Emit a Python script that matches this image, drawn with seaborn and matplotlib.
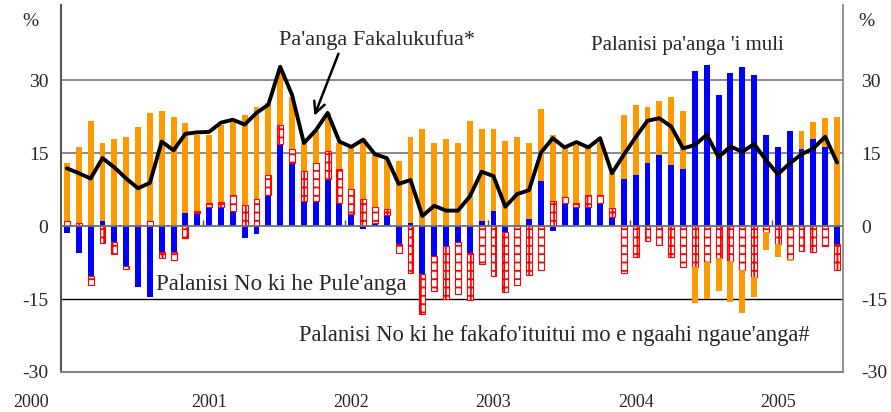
import numpy as np
import pandas as pd
import matplotlib
matplotlib.use('Agg')
import matplotlib.pyplot as plt
import seaborn as sns

months = pd.date_range('2000-01-01', periods=66, freq='MS')
years = ['2000', '2001', '2002', '2003', '2004', '2005']

# Palanisi pa'anga 'i muli
foreign = [-1.4, -5.5, -10.3, 1.0, -3.2, -8.2, -12.5, -14.6, -5.4, -5.4, 2.7, 2.7,
           3.9, 3.9, 3.1, -2.5, -1.7, 6.4, 16.9, 12.9, 5.2, 5.2, 9.7, 4.7,
           2.6, -0.6, 0.7, 2.3, -3.6, 0.6, -9.8, -6.1, -4.1, -3.2, -5.6, 1.0,
           3.1, -1.2, 0.0, 1.4, 9.3, -1.0, 4.7, 3.9, 3.9, 4.7, 1.9, 9.7,
           10.5, 13.0, 14.7, 12.6, 11.8, 32.0, 33.2, 27.0, 31.5, 32.8, 31.2, 18.8,
           16.3, 19.6, 15.9, 17.9, 16.2, -3.6]
# Palanisi No ki he Pule'anga
govt = [1.1, 0.7, -1.7, -3.4, -2.5, -0.6, 0.3, 1.1, -1.2, -1.6, -2.5, 0.4,
        0.8, 1.0, 3.3, 4.3, 5.5, 4.1, 3.9, 2.9, 6.2, 7.8, 5.8, 7.1,
        5.0, 5.6, 3.3, 1.2, -1.9, -9.6, -8.3, -7.3, -10.9, -10.7, -9.6, -7.8,
        -10.3, -12.4, -12.0, -10.0, -9.1, 5.2, 1.4, 0.8, 2.5, 1.7, 1.9, -9.6,
        -6.3, -3.0, -3.8, -6.3, -8.4, -8.3, -7.4, -6.6, -7.2, -9.1, -10.5, -1.2,
        -3.6, -6.7, -5.1, -5.3, -4.1, -5.5]
# Palanisi No ki he fakafo'ituitui mo e ngaahi ngaue'anga
private = [11.8, 15.5, 21.7, 16.1, 18.0, 18.4, 20.1, 22.2, 23.7, 22.5, 18.6, 15.7,
           14.1, 16.0, 15.1, 18.6, 19.0, 14.8, 11.5, 10.8, 5.7, 6.5, 7.8, 5.3,
           8.4, 12.3, 10.7, 10.3, 13.4, 17.8, 20.0, 17.1, 17.9, 17.1, 21.7, 19.0,
           16.9, 17.5, 18.4, 15.7, 14.9, 13.6, 10.1, 12.0, 9.8, 10.7, 7.1, 13.2,
           14.5, 11.6, 11.1, 14.0, 11.9, -7.6, -7.6, -6.7, -8.3, -8.8, -4.1, -3.6,
           -2.8, -0.5, 3.7, 3.6, 6.0, 22.5]
# Pa'anga Fakalukufua
total = [11.9, 10.9, 9.8, 14.0, 12.1, 9.8, 7.8, 8.9, 17.4, 15.6, 19.0, 19.3,
         19.4, 21.3, 21.9, 20.9, 23.3, 25.0, 32.8, 27.0, 17.1, 19.7, 23.3, 17.4,
         16.3, 17.8, 14.8, 14.0, 8.7, 9.5, 2.1, 4.2, 3.2, 3.2, 6.1, 11.2,
         10.3, 4.0, 6.6, 7.4, 15.1, 18.1, 16.2, 17.3, 16.2, 18.1, 10.9, 14.7,
         18.3, 21.7, 22.2, 20.5, 16.0, 16.7, 18.8, 14.2, 16.4, 15.3, 16.9, 13.6,
         10.7, 12.9, 14.8, 16.0, 18.4, 13.1]

df = pd.DataFrame({'month': np.arange(len(months)), 'foreign': foreign,
                   'govt': govt, 'private': private, 'total': total})

# excel style stacking: positives go up from 0, negatives go down from 0
cols = ['foreign', 'govt', 'private']
pos = df[cols].clip(lower=0)
neg = df[cols].clip(upper=0)
pos_base = pos.cumsum(axis=1) - pos
neg_base = neg.cumsum(axis=1) - neg

sns.set_style('white')
plt.rcParams['font.family'] = ['Liberation Serif', 'DejaVu Serif']
plt.rcParams['axes.unicode_minus'] = False
plt.rcParams['hatch.linewidth'] = 1.3

fig = plt.figure(figsize=(8.91, 4.12), dpi=100)
ax = fig.add_axes([61/891, 40/412, 782/891, 367/412])

styles = {
    'foreign': dict(color='#0000FF', linewidth=0),
    'govt': dict(color='white', hatch='++', edgecolor='#FF0000', linewidth=0.8),
    'private': dict(color='#FF9900', linewidth=0),
}
for col in cols:
    for part, base in [(pos, pos_base), (neg, neg_base)]:
        n0 = len(ax.patches)
        sns.barplot(x=df['month'], y=part[col], bottom=base[col].to_numpy(), width=0.5,
                    saturation=1, errorbar=None, ax=ax, zorder=2, **styles[col])
        # hide empty segments so their outline does not show
        for p in ax.patches[n0:]:
            if p.get_height() == 0:
                p.set_visible(False)

sns.lineplot(x=df['month'], y=df['total'], color='black', linewidth=2.8, ax=ax, zorder=5)

for v in [15, 30]:
    ax.axhline(v, color='#808080', lw=1.3, zorder=1)
ax.axhline(-15, color='black', lw=1.0, zorder=1)
ax.axhline(0, color='#707070', lw=1.3, zorder=3)
ax.vlines([11.5, 23.5, 35.5, 47.5, 59.5], 0, 1.2, color='#555555', lw=1, zorder=1)

ax.set_xlim(-0.5, len(months) - 0.5)
ax.set_ylim(-30, 45.5)
ax.set_yticks([-30, -15, 0, 15, 30])
ax.set_xticks([])
ax.set_xlabel('')
ax.set_ylabel('')
ax.tick_params(axis='y', length=0, pad=9, labelsize=14)
ax.spines['top'].set_visible(False)
ax.spines['left'].set_color('#555555')
ax.spines['left'].set_linewidth(1.5)
ax.spines['right'].set_color('#808080')
ax.spines['right'].set_linewidth(1.2)
ax.spines['bottom'].set_color('#808080')
ax.spines['bottom'].set_linewidth(1.5)

ax2 = ax.twinx()
ax2.set_ylim(ax.get_ylim())
ax2.set_yticks([-30, -15, 0, 15, 30])
ax2.tick_params(axis='y', length=0, pad=13, labelsize=14)
for s in ax2.spines.values():
    s.set_visible(False)

for i, y in enumerate(years):
    ax.text([-3, 12, 24, 36, 48, 60][i], -0.082, y, transform=ax.get_xaxis_transform(),
            ha='center', va='center', fontsize=13)

fig.text(30/891, 1 - 22/412, '%', ha='center', va='center', fontsize=14)
fig.text(866/891, 1 - 22/412, '%', ha='center', va='center', fontsize=14)

ax.text(17.9, 38.3, "Pa'anga Fakalukufua*", va='center', fontsize=16, zorder=6)
ax.annotate('', xy=(20.8, 22.2), xytext=(23.0, 36.0),
            arrowprops=dict(arrowstyle='->', color='black', lw=1.8, mutation_scale=20), zorder=6)
ax.text(44.2, 37.2, "Palanisi pa'anga 'i muli", va='center', fontsize=15, zorder=6)
ax.text(7.5, -12.1, "Palanisi No ki he Pule'anga", va='center', fontsize=16.5, zorder=6)
ax.text(19.6, -22.4, "Palanisi No ki he fakafo'ituitui mo e ngaahi ngaue'anga#",
        va='center', fontsize=16.3, zorder=6)

fig.savefig('out.png', dpi=100)
